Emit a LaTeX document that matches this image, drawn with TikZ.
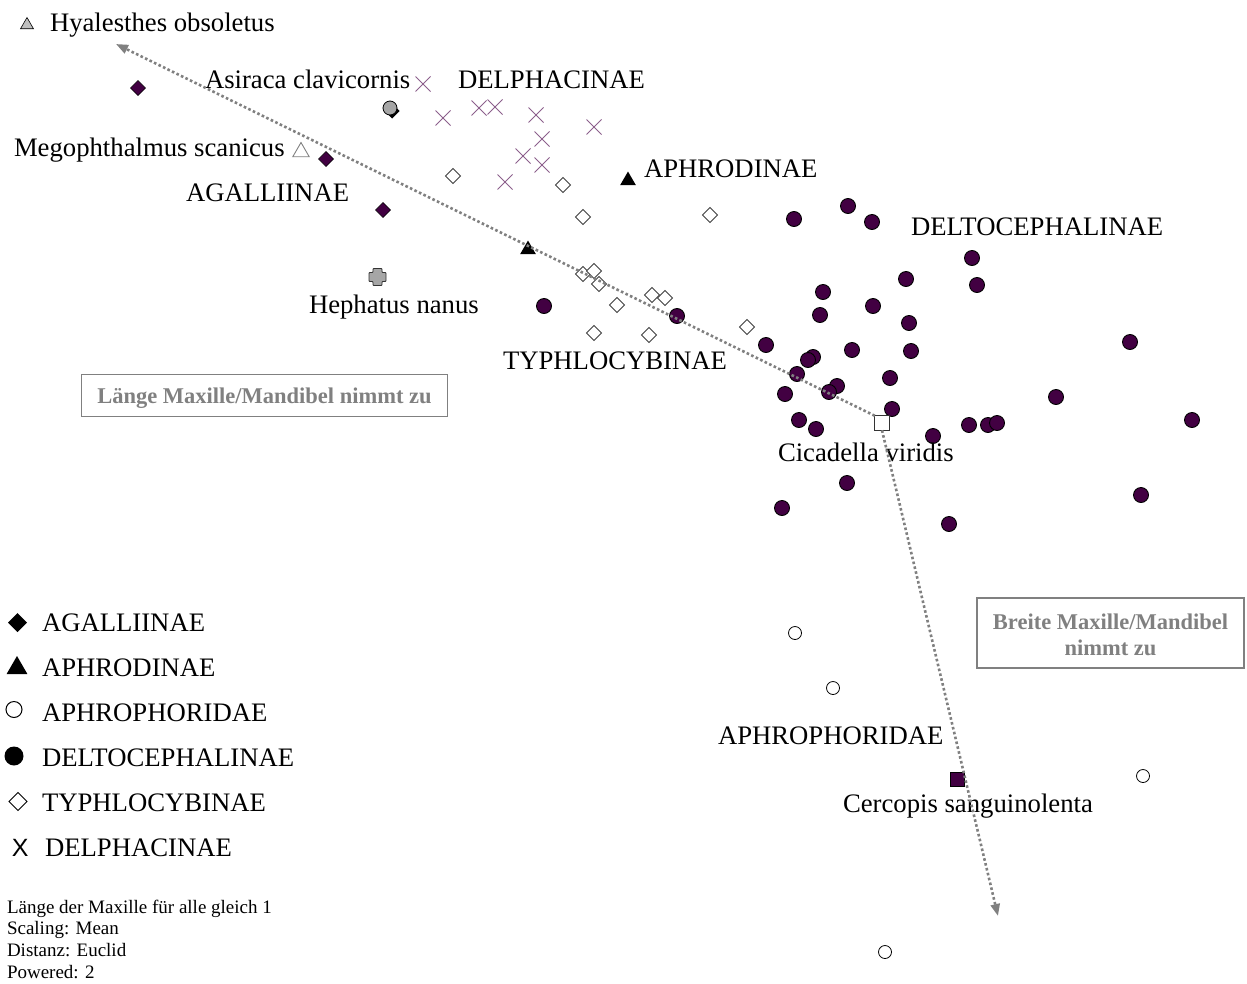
\documentclass[tikz,border=0pt]{standalone}
\usepackage{fontspec}
\setmainfont{Liberation Serif}
\newfontfamily\arialf{Liberation Sans}
\usetikzlibrary{shapes.geometric,shapes.misc,arrows.meta}
\definecolor{dp}{RGB}{66,0,66}
\definecolor{xc}{RGB}{140,95,140}
\definecolor{ax}{RGB}{128,128,128}
\begin{document}
\begin{tikzpicture}[x=1pt,y=-1pt,
 every node/.style={inner sep=0pt,outer sep=0pt},
 dot/.style={circle,fill=dp,draw=black,line width=0.9pt,minimum size=15pt},
 agal/.style={diamond,fill=dp,draw=black,line width=0.6pt,minimum size=15pt},
 typh/.style={diamond,fill=white,draw=black!75,line width=0.9pt,minimum size=15pt},
 aphro/.style={circle,fill=white,draw=black,line width=0.8pt,minimum size=13pt},
 aphr/.style={regular polygon,regular polygon sides=3,fill=black,minimum size=18pt},
 delph/.style={cross out,draw=xc,line width=0.9pt,minimum size=15pt},
 lab/.style={anchor=base west,font=\fontsize{26.7}{30}\selectfont},
 foot/.style={anchor=base west,font=\fontsize{19}{22}\selectfont},
 gframe/.style={draw=ax,line width=1.3pt},
 gtext/.style={text=ax,align=center,font=\bfseries\fontsize{22.5}{26.5}\selectfont},
 axisline/.style={draw=ax,line width=2.6pt,dash pattern=on 2.6pt off 2.4pt,-{Triangle[length=12pt,width=9pt]}}
]
\useasboundingbox (0,0) rectangle (1247,983);
% DELTOCEPHALINAE
\foreach \x/\y [count=\i] in {794/219,848/206,872/222,972/258,906/279,977/285,823/292,873/306,820/315,909/323,766/345,852/350,911/351,1130/342,813/357,808/360,797/374,890/378,837/386,829/392,785/394,1056/397,1192/420,799/420,816/429,892/409,933/436,969/425,988/425,997/423,847/483,782/508,949/524,1141/495,544/306,677/316}
  \node[dot] (d\i) at (\x,\y) {};
% TYPHLOCYBINAE
\foreach \x/\y [count=\i] in {453/176,563/185,583/217,710/215,583/274,594/271,599/284,617/305,652/295,665/298,594/333,649/335,747/327}
  \node[typh] (t\i) at (\x,\y) {};
% DELPHACINAE
\foreach \x/\y [count=\i] in {423/84,443/118,479/108,495/107,536/115,542/139,523/156,542/165,505/182,594/127}
  \node[delph] (x\i) at (\x,\y) {};
% AGALLIINAE
\foreach \x/\y [count=\i] in {138/88,326/159,383/210}
  \node[agal] (g\i) at (\x,\y) {};
% APHRODINAE
\node[aphr] (r1) at (628,180.5) {};
\node[aphr] (r2) at (528,249.5) {};
% APHROPHORIDAE
\foreach \x/\y [count=\i] in {795/633,833/688,1143/776,885/952}
  \node[aphro] (p\i) at (\x,\y) {};
% special taxa
\node[regular polygon,regular polygon sides=3,fill=black!25,draw=black,line width=0.6pt,minimum size=15pt] (hya) at (27,25) {};
\node[regular polygon,regular polygon sides=3,fill=white,draw=ax,line width=0.9pt,minimum size=19pt] (meg) at (301,152) {};
\node[diamond,fill=black,minimum size=15pt] (asd) at (392,111) {};
\node[circle,fill=black!35,draw=black,line width=0.8pt,minimum size=14pt] (asi) at (390,108) {};
\draw[fill=black!35,draw=black!80,line width=0.9pt,rounded corners=0.8pt]
  (373,268.5) -- (382,268.5) -- (382,272.5) -- (386,272.5) -- (386,281.5) -- (382,281.5) -- (382,285.5) -- (373,285.5) -- (373,281.5) -- (369,281.5) -- (369,272.5) -- (373,272.5) -- cycle;
\node[rectangle,fill=white,draw=black!80,line width=0.9pt,minimum size=14.5pt] (cic) at (882,423) {};
\node[rectangle,fill=dp,draw=black,line width=0.8pt,minimum size=14pt] (cer) at (957,779) {};
% labels
\node[lab] (lhya) at (50,31) {Hyalesthes obsoletus};
\node[lab] (lasi) at (205,88) {Asiraca clavicornis};
\node[lab] (ldel) at (458,88) {DELPHACINAE};
\node[lab] (lmeg) at (14,156) {Megophthalmus scanicus};
\node[lab] (lagal) at (186,201) {AGALLIINAE};
\node[lab] (laphr) at (644,177.5) {APHRODINAE};
\node[lab] (ldelto) at (911,235) {DELTOCEPHALINAE};
\node[lab] (lhep) at (309,313.5) {Hephatus nanus};
\node[lab] (ltyp) at (503,369.5) {TYPHLOCYBINAE};
\node[lab] (lcic) at (778,461) {Cicadella viridis};
\node[lab] (laphro) at (718,744) {APHROPHORIDAE};
\node[lab] (lcer) at (843,812) {Cercopis sanguinolenta};
% axes
\coordinate (e1) at (116,44);
\coordinate (e2) at (998,916);
\draw[axisline] (cic.north west) -- (e1);
\draw[axisline] (cic.south) -- (e2);
% boxes
\node[gframe,minimum width=366pt,minimum height=42pt] (lframe) at (264.5,395.5) {};
\node[gtext] (ltext) at (264.5,398) {Länge Maxille/Mandibel nimmt zu};
\node[gframe,minimum width=267pt,minimum height=70pt] (bframe) at (1110.5,633) {};
\node[gtext] (btext) at (1110.5,635) {Breite Maxille/Mandibel\\nimmt zu};
% legend
\node[diamond,fill=black,minimum size=19pt] (lg1) at (17.5,622.5) {};
\node[regular polygon,regular polygon sides=3,fill=black,minimum size=24pt] (lg2) at (17,668) {};
\node[circle,draw=black,line width=1pt,minimum size=16pt] (lg3) at (14,709.5) {};
\node[circle,fill=black,minimum size=19pt] (lg4) at (14,756) {};
\node[diamond,draw=black,line width=1pt,minimum size=18pt] (lg5) at (18,801.5) {};
\node[anchor=base west,font=\arialf\fontsize{25}{28}\selectfont] (lg6) at (12,856.5) {X};
\node[lab] (lt1) at (42,631.5) {AGALLIINAE};
\node[lab] (lt2) at (42,676.5) {APHRODINAE};
\node[lab] (lt3) at (42,721) {APHROPHORIDAE};
\node[lab] (lt4) at (42,766) {DELTOCEPHALINAE};
\node[lab] (lt5) at (42,811.5) {TYPHLOCYBINAE};
\node[lab] (lt6) at (45,856.5) {DELPHACINAE};
% footnote
\node[foot] (f1) at (7,913.5) {Länge der Maxille für alle gleich 1};
\node[foot] (f2) at (7,934.5) {Scaling: Mean};
\node[foot] (f3) at (7,956.5) {Distanz: Euclid};
\node[foot] (f4) at (7,978.5) {Powered: 2};
\end{tikzpicture}
\end{document}
